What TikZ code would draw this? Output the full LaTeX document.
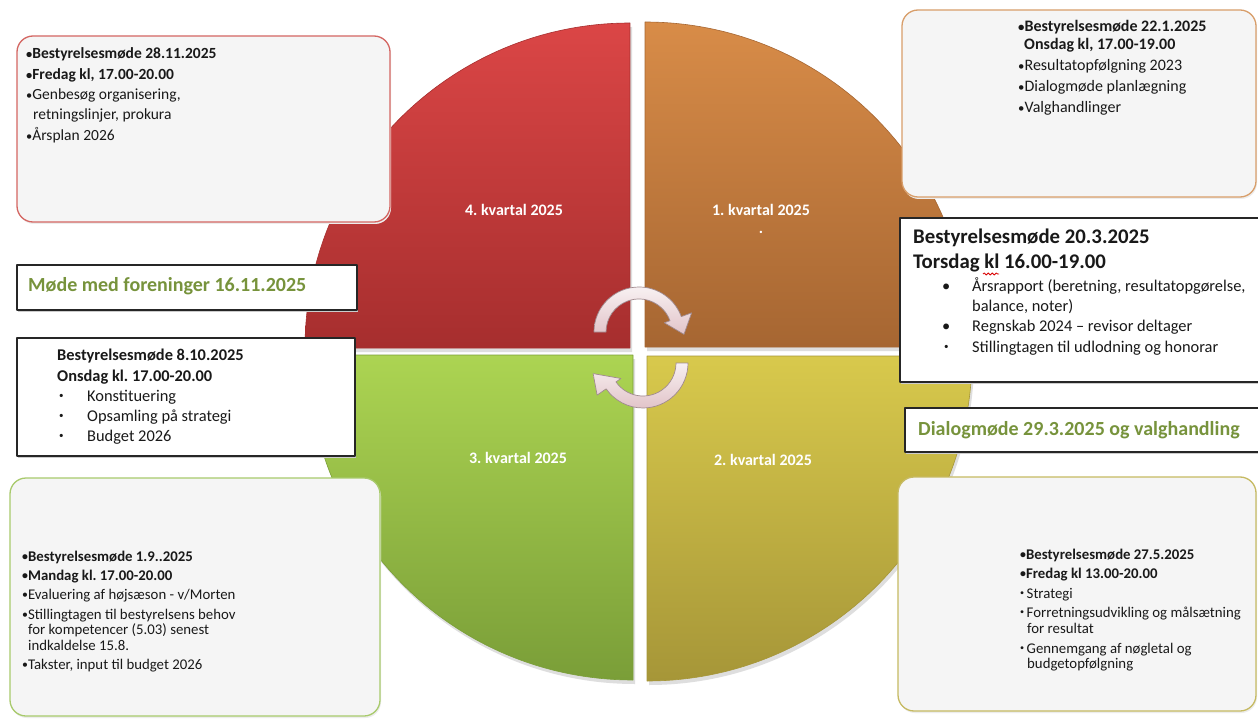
\documentclass[tikz,border=0pt]{standalone}
\usepackage{fontspec}
\setmainfont{Carlito}
\usepackage{graphicx}
\usetikzlibrary{decorations.pathmorphing}
\definecolor{q4top}{RGB}{219,70,70}
\definecolor{q4bot}{RGB}{166,46,46}
\definecolor{q1top}{RGB}{216,140,72}
\definecolor{q1bot}{RGB}{166,102,50}
\definecolor{q2top}{RGB}{216,201,76}
\definecolor{q2bot}{RGB}{166,150,56}
\definecolor{q3top}{RGB}{172,212,82}
\definecolor{q3bot}{RGB}{122,158,56}
\definecolor{kortfill}{RGB}{245,245,245}
\definecolor{kortred}{RGB}{212,102,98}
\definecolor{kortorange}{RGB}{216,158,106}
\definecolor{kortgreen}{RGB}{168,202,108}
\definecolor{kortolive}{RGB}{198,186,98}
\definecolor{olivetext}{RGB}{119,147,60}
\definecolor{pilfill}{RGB}{226,196,201}
\definecolor{pilkant}{RGB}{160,138,143}
\newcommand{\sbul}{\raisebox{0.18em}{\scalebox{0.55}{•}}}
\newcommand{\bul}{\raisebox{0.06em}{\scalebox{0.8}{•}}}
\frenchspacing

\begin{document}
\begin{tikzpicture}[x=1pt,y=-1pt,line join=round,
  every node/.style={inner sep=0pt,anchor=base west,text=black!90},
  kort/.style={line width=1.3pt,rounded corners=16pt,fill=kortfill,
    preaction={fill=black!7,transform canvas={xshift=1pt,yshift=-2pt}}},
  ramme/.style={draw=black!85,line width=1.1pt,fill=white,
    preaction={fill=black!20,transform canvas={xshift=1pt,yshift=-2pt}}},
  pil/.style={top color=white!75!pilfill,bottom color=pilfill,draw=pilkant,line width=0.7pt},
  kvlabel/.style={anchor=center,text=white,font=\fontsize{16}{19}\selectfont\bfseries},
  fa/.style={font=\fontsize{15.5}{18}\selectfont},
  fb/.style={font=\fontsize{16.4}{19}\selectfont},
  fc/.style={font=\fontsize{14.8}{17}\selectfont},
  fd/.style={font=\fontsize{20.8}{24}\selectfont\bfseries},
  gron/.style={font=\fontsize{20}{24}\selectfont\bfseries,text=olivetext}]
  \def\R{325}
  % 背景
  \useasboundingbox (0,0) rectangle (1258,719);
  \clip (0,0) rectangle (1258,719);
  \fill[white] (0,0) rectangle (1258,719);
  % 四个象限
  \foreach \cx/\cy/\a in {630/348/180,645/347/270,647/356/0,633/355/90}
    \fill[black!13] ([shift={(2,4)}]\cx,\cy) -- ++(\a:\R) arc[start angle=\a,end angle=\a+90,radius=\R] -- cycle;
  \foreach \cx/\cy/\a/\ct/\cb in {630/348/180/q4top/q4bot,645/347/270/q1top/q1bot,647/356/0/q2top/q2bot,633/355/90/q3top/q3bot}
    \shade[top color=\ct,bottom color=\cb,draw=\cb,line width=0.6pt] (\cx,\cy) -- ++(\a:\R) arc[start angle=\a,end angle=\a+90,radius=\R] -- cycle;
  \node[kvlabel] (kv4) at (514,210) {4. kvartal 2025};
  \node[kvlabel] (kv1) at (761,210) {1. kvartal 2025};
  \node[kvlabel] (prik) at (761,232) {.};
  \node[kvlabel] (kv3) at (518,458) {3. kvartal 2025};
  \node[kvlabel] (kv2) at (763,460) {2. kvartal 2025};
  % 中间箭头
  \begin{scope}[shift={(639,332)}]
    \shade[pil] (180:45) arc[start angle=180,end angle=340,radius=45] -- (340:56) -- (3:45)
      -- (340:27) -- (340:33) arc[start angle=340,end angle=180,radius=33] -- cycle;
  \end{scope}
  \begin{scope}[shift={(643,363)}]
    \shade[pil] (0:45) arc[start angle=0,end angle=145,radius=45] -- (145:56) -- (168:51)
      -- (145:27) -- (145:33) arc[start angle=145,end angle=0,radius=33] -- cycle;
  \end{scope}
  % 圆角卡片
  \draw[kort,draw=kortred] (17,36) rectangle (390,222);
  \draw[kort,draw=kortorange] (902,10) rectangle (1256,197);
  \draw[kort,draw=kortgreen] (10,478) rectangle (380,716);
  \draw[kort,draw=kortolive] (898,477) rectangle (1256,711);
  % 黑框
  \draw[ramme] (900,218) rectangle (1262,382);
  \draw[ramme] (905,408) rectangle (1262,452);
  \draw[ramme] (17,265) rectangle (357,310);
  \draw[ramme] (17,338) rectangle (355,456);
  % 4. kvartal
  \foreach \x/\y/\t [count=\i] in {26/59/{\bfseries \bul Bestyrelsesmøde 28.11.2025},
      26/80/{\bfseries \bul Fredag kl, 17.00-20.00},26/100/{\bul Genbesøg organisering,},
      33/120/{retningslinjer, prokura},26/141/{\bul Årsplan 2026}}
    \node[fa] (tl\i) at (\x,\y) {\t};
  \node[gron] (forening) at (28,292) {Møde med foreninger 16.11.2025};
  \node[fb,font=\fontsize{16.4}{19}\selectfont\bfseries] (m810) at (57,360) {Bestyrelsesmøde 8.10.2025};
  \node[fb,font=\fontsize{16.4}{19}\selectfont\bfseries] (m810b) at (57,381) {Onsdag kl. 17.00-20.00};
  \foreach \y/\t [count=\i] in {401/Konstituering,421/Opsamling på strategi,441/Budget 2026} {
    \node[fb] (b810\i) at (59,\y) {\sbul};
    \node[fb] (p810\i) at (87,\y) {\t};
  }
  % 1. kvartal
  \foreach \x/\y/\t [count=\i] in {1018/32/{\bfseries \bul Bestyrelsesmøde 22.1.2025},
      1024/50/{\bfseries Onsdag kl, 17.00-19.00},1018/71/{\bul Resultatopfølgning 2023},
      1018/92/{\bul Dialogmøde planlægning},1018/113/{\bul Valghandlinger}}
    \node[fb,font=\fontsize{16}{19}\selectfont] (tr\i) at (\x,\y) {\t};
  \node[fd] (m203) at (913,244) {Bestyrelsesmøde 20.3.2025};
  \node[fd] (m203b) at (913,269) {Torsdag kl 16.00-19.00};
  \draw[red!85!black,line width=0.8pt,decorate,decoration={snake,amplitude=1.1pt,segment length=4pt}]
    (983,274) -- (999,274);
  \node[fb] (b2031) at (942,291.5) {•};
  \node[fb] (b2032) at (942,331.5) {•};
  \node[fb] (b2033) at (944,352.5) {\sbul};
  \foreach \y/\t [count=\i] in {291.5/{Årsrapport (beretning, resultatopgørelse,},311.5/{balance, noter)},
      331.5/{Regnskab 2024 – revisor deltager},352.5/{Stillingtagen til udlodning og honorar}}
    \node[fb] (p203\i) at (972,\y) {\t};
  % 2. kvartal
  \node[gron] (dialog) at (918,435) {Dialogmøde 29.3.2025 og valghandling};
  \foreach \x/\y/\t [count=\i] in {1020/559/{\bfseries \bul Bestyrelsesmøde 27.5.2025},
      1020/578/{\bfseries \bul Fredag kl 13.00-20.00},1020/598/{\sbul\,Strategi},
      1020/617/{\sbul\,Forretningsudvikling og målsætning},1027/633/{for resultat},
      1020/653/{\sbul\,Gennemgang af nøgletal og},1027/668/{budgetopfølgning}}
    \node[fc] (br\i) at (\x,\y) {\t};
  % 3. kvartal
  \foreach \x/\y/\t [count=\i] in {22/561/{\bfseries \bul Bestyrelsesmøde 1.9..2025},
      22/580/{\bfseries \bul Mandag kl. 17.00-20.00},22/599/{\bul Evaluering af højsæson - v/Morten},
      22/619/{\bul Stillingtagen til bestyrelsens behov},28/634.5/{for kompetencer (5.03) senest},
      28/650/{indkaldelse 15.8.},22/669/{\bul Takster, input til budget 2026}}
    \node[fc] (bl\i) at (\x,\y) {\t};
\end{tikzpicture}
\end{document}
